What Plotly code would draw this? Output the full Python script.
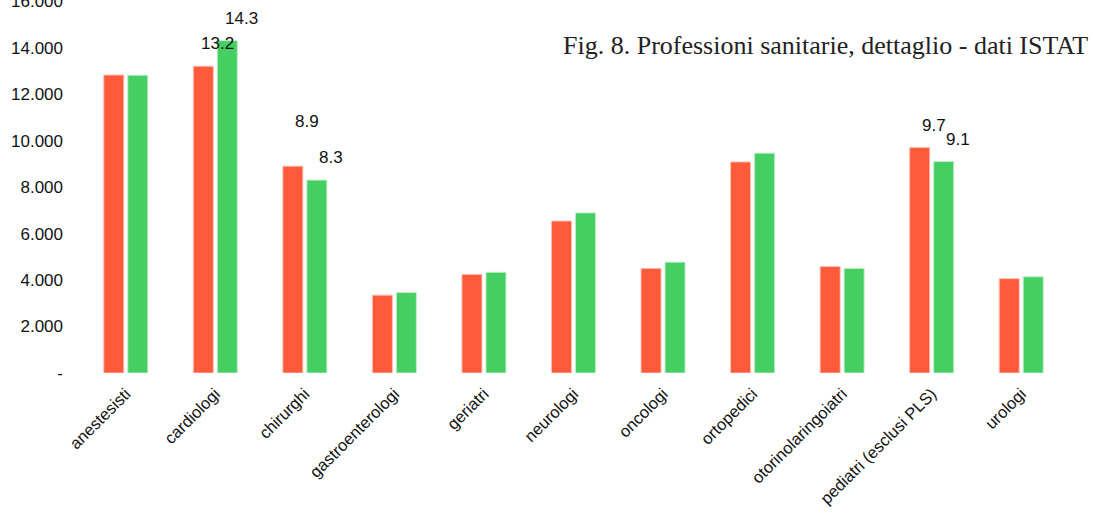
import plotly.graph_objects as go

# Categorie professionali (asse x)
categorie = [
    "anestesisti", "cardiologi", "chirurghi", "gastroenterologi", "geriatri",
    "neurologi", "oncologi", "ortopedici", "otorinolaringoiatri",
    "pediatri (esclusi PLS)", "urologi",
]

# Numero di professionisti per le due rilevazioni
serie_rossa = [12820, 13200, 8900, 3350, 4240, 6540, 4500, 9080, 4580, 9700, 4060]
serie_verde = [12810, 14300, 8300, 3460, 4330, 6890, 4770, 9460, 4500, 9100, 4140]

# Etichette dell'asse y
y_tick_valori = [0, 2000, 4000, 6000, 8000, 10000, 12000, 14000, 16000]
y_tick_testi = ["-", "2.000", "4.000", "6.000", "8.000", "10.000", "12.000", "14.000", "16.000"]

# Categorie con il valore (in migliaia) scritto sopra le barre
categorie_etichettate = ["cardiologi", "chirurghi", "pediatri (esclusi PLS)"]

ROSSO = "#FF5B3A"
VERDE = "#45CF63"
FONT = "Liberation Sans, Arial, sans-serif"
ALTEZZA_AREA = 373  # altezza in pixel dell'area del grafico

fig = go.Figure()
fig.add_trace(go.Bar(
    x=categorie, y=serie_rossa, name="prima rilevazione",
    marker=dict(color=ROSSO, line=dict(color="rgba(255,190,180,0.9)", width=1)),
))
fig.add_trace(go.Bar(
    x=categorie, y=serie_verde, name="seconda rilevazione",
    marker=dict(color=VERDE, line=dict(color="rgba(190,240,200,0.9)", width=1)),
))

annotazioni = []
for serie, dx in ((serie_rossa, -12), (serie_verde, 12)):
    for cat, val in zip(categorie, serie):
        if cat not in categorie_etichettate:
            continue
        testo = f"{val / 1000:.1f}"
        alza = 33 if (cat == "chirurghi" and dx < 0) else 11
        annotazioni.append(dict(
            x=cat, y=val, xref="x", yref="y", text=testo, showarrow=False,
            xanchor="center", yanchor="bottom", xshift=dx + 14, yshift=alza,
            font=dict(family=FONT, size=17, color="#111111"),
        ))

# Titolo in alto a destra
annotazioni.append(dict(
    x=1.0, y=1 - 46 / ALTEZZA_AREA, xref="paper", yref="paper",
    text="Fig. 8. Professioni sanitarie, dettaglio - dati ISTAT",
    showarrow=False, xanchor="right", yanchor="middle", xshift=24,
    font=dict(family="Liberation Serif, Times New Roman, serif", size=26, color="#222222"),
))

fig.update_layout(
    width=1093, height=517,
    margin=dict(l=81, r=27, t=0, b=517 - ALTEZZA_AREA, autoexpand=False),
    paper_bgcolor="white", plot_bgcolor="white",
    barmode="group", bargap=0.464, bargroupgap=0.167,
    showlegend=False,
    annotations=annotazioni,
    font=dict(family=FONT, color="#111111"),
)
fig.update_xaxes(
    type="category", tickangle=-45, showgrid=False, zeroline=False,
    showline=False, ticks="", ticklabelstandoff=7, automargin=False,
    tickfont=dict(family=FONT, size=16.5, color="#111111"),
)
fig.update_yaxes(
    range=[0, 16050], tickvals=y_tick_valori, ticktext=y_tick_testi,
    showgrid=False, zeroline=False, showline=False, ticks="",
    ticklabelstandoff=17, ticklabeloverflow="allow", automargin=False,
    tickfont=dict(family=FONT, size=17, color="#111111"),
)

fig.write_html("out.html")
